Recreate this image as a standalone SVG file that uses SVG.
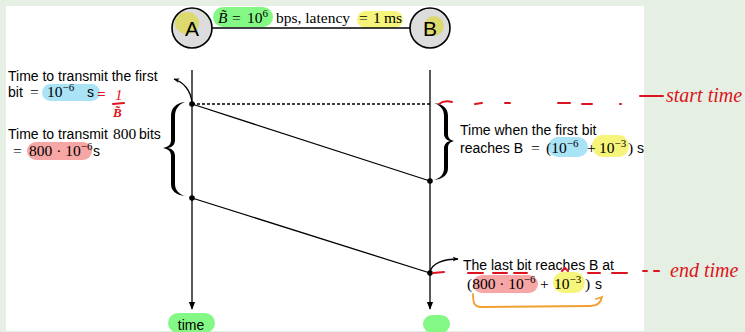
<svg xmlns="http://www.w3.org/2000/svg" width="745" height="332" viewBox="0 0 745 332">
  <defs>
    <style>
      .sans{font-family:"Liberation Sans",Arial,sans-serif;font-size:14px;fill:#000}
      .math{font-family:"Liberation Serif","Times New Roman",serif;font-size:15.5px;fill:#000}
      .sup{font-size:11px}
      .ink{stroke:#000;fill:none;stroke-width:1.3}
      .node{fill:#dcdcdc;stroke:#000;stroke-width:1.6}
      .red{stroke:#dc1420;stroke-width:2;fill:none;stroke-linecap:round}
      .hand{font-family:"Liberation Serif",serif;font-style:italic;fill:#dc1420}
      .hl-green{fill:#84f884}
      .hl-blue{fill:#aae3f6}
      .hl-pink{fill:#f7a6a6}
      .hl-yellow{fill:#f6f47a}
    </style>
    <marker id="axisHead" viewBox="0 0 10 10" refX="9" refY="5" markerWidth="8" markerHeight="9" orient="auto" markerUnits="userSpaceOnUse">
      <path d="M0,1 L10,5 L0,9 Z" fill="#000"/>
    </marker>
    <marker id="smallHead" viewBox="0 0 10 10" refX="9" refY="5" markerWidth="6" markerHeight="6" orient="auto" markerUnits="userSpaceOnUse">
      <path d="M0,1 L10,5 L0,9 L3,5 Z" fill="#000"/>
    </marker>
  </defs>

  <!-- page -->
  <rect x="0" y="0" width="745" height="332" fill="#e5efe3"/>
  <rect x="6" y="6" width="638" height="325" fill="#fff"/>

  <!-- link label -->
  <g id="link-label">
    <rect class="hl-green" x="213" y="7" width="60" height="20" rx="10"/>
    <rect class="hl-yellow" x="357" y="11" width="46" height="17" rx="8.5"/>
    <text y="22.5" class="math"><tspan x="218" font-style="italic">B̃</tspan><tspan x="232">=</tspan><tspan x="247">10</tspan><tspan class="sup" dy="-6">6</tspan><tspan x="276" dy="6">bps, latency</tspan><tspan x="359">=</tspan><tspan x="373">1</tspan><tspan x="384">ms</tspan></text>
  </g>

  <!-- node A -->
  <g id="node-a">
    <circle class="node" cx="192" cy="28" r="20"/>
    <ellipse cx="187" cy="23" rx="12" ry="11" fill="#dcd85c" opacity="0.85"/>
    <text x="192" y="36" text-anchor="middle" font-family="Liberation Sans,Arial,sans-serif" font-size="21">A</text>
  </g>

  <!-- node B -->
  <g id="node-b">
    <circle class="node" cx="430" cy="28" r="20"/>
    <ellipse cx="434" cy="26" rx="10" ry="10" fill="#dcd85c" opacity="0.85"/>
    <text x="430" y="36" text-anchor="middle" font-family="Liberation Sans,Arial,sans-serif" font-size="21">B</text>
  </g>

  <!-- connectors -->
  <g id="connectors">
    <line class="ink" x1="212" y1="28" x2="410" y2="28" stroke-width="1.6"/>
    <line class="ink" x1="192" y1="70" x2="192" y2="309" marker-end="url(#axisHead)"/>
    <line class="ink" x1="430" y1="70" x2="430" y2="309" marker-end="url(#axisHead)"/>
    <line class="ink" x1="192" y1="104" x2="430" y2="104" stroke-dasharray="3 2"/>
    <line class="ink" x1="192" y1="104" x2="430" y2="181"/>
    <line class="ink" x1="192" y1="198" x2="430" y2="273"/>
    <path class="ink" d="M192,103 C191,90 183,82 174,79" stroke-width="1" marker-end="url(#smallHead)"/>
    <path class="ink" d="M430,272 C432,263 444,259 458,259" stroke-width="1" marker-end="url(#smallHead)"/>
    <g fill="#000">
      <circle cx="192" cy="104" r="2.8"/>
      <circle cx="430" cy="181" r="2.8"/>
      <circle cx="192" cy="198" r="2.8"/>
      <circle cx="430" cy="273" r="2.8"/>
    </g>
  </g>

  <!-- braces -->
  <path id="brace-left" fill="#000" d="M185,102 C176,103 171,108 171,116 L171,140 C171,145 168,147 163,148 C168,149 171,151 171,156 L171,184 C171,191 176,195 185,196 C179,194 175,190 175,184 L175,156 C175,152 173,149 168,148 C173,147 175,144 175,140 L175,116 C175,109 179,104 185,102 Z"/>
  <path id="brace-right" fill="#000" d="M434,103 C443,104 448,108 448,116 L448,134 C448,138 450,140 454,141 C450,142 448,144 448,148 L448,168 C448,175 443,179 434,180 C440,178 444,175 444,168 L444,148 C444,145 446,142 450,141 C446,140 444,137 444,134 L444,116 C444,109 440,105 434,103 Z"/>

  <!-- left notes -->
  <g id="note-first-bit">
    <rect class="hl-blue" x="42" y="84" width="58" height="17" rx="8.5"/>
    <text x="8" y="81" class="sans">Time to transmit the first</text>
    <text y="97" class="sans"><tspan x="8">bit</tspan><tspan x="30" class="math">=</tspan><tspan x="47" class="math">10</tspan><tspan class="math sup" dy="-6">−6</tspan><tspan x="87" dy="6">s</tspan></text>
  </g>
  <g id="note-800-bits">
    <rect class="hl-pink" x="27" y="142" width="65" height="18" rx="9"/>
    <text y="139" class="sans"><tspan x="8">Time to transmit</tspan><tspan x="113" class="math">800</tspan><tspan x="139">bits</tspan></text>
    <text y="156" class="sans"><tspan x="13" class="math">=</tspan><tspan x="29" class="math">800 · 10</tspan><tspan class="math sup" dy="-6">−6</tspan><tspan x="93" dy="6">s</tspan></text>
  </g>

  <!-- right notes -->
  <g id="note-first-arrival">
    <rect class="hl-blue" x="548" y="137" width="40" height="20" rx="10"/>
    <rect class="hl-yellow" x="592" y="135" width="37" height="22" rx="11"/>
    <text x="460" y="135" class="sans">Time when the first bit</text>
    <text y="153" class="sans"><tspan x="460">reaches B</tspan><tspan x="531" class="math">=</tspan><tspan x="546" class="math">(10</tspan><tspan class="math sup" dy="-6">−6</tspan><tspan x="587" dy="6" class="math">+</tspan><tspan x="599" class="math">10</tspan><tspan class="math sup" dy="-6">−3</tspan><tspan x="628" dy="6" class="math">)</tspan><tspan x="637">s</tspan></text>
  </g>
  <g id="note-last-arrival">
    <rect class="hl-pink" x="473" y="275" width="65" height="18" rx="9"/>
    <rect class="hl-yellow" x="553" y="272" width="32" height="21" rx="10.5"/>
    <text x="463" y="270" class="sans">The last bit reaches B at</text>
    <text y="289" class="sans"><tspan x="467" class="math">(800 · 10</tspan><tspan class="math sup" dy="-6">−6</tspan><tspan x="540" dy="6" class="math">+</tspan><tspan x="554" class="math">10</tspan><tspan class="math sup" dy="-6">−3</tspan><tspan x="585" dy="6" class="math">)</tspan><tspan x="595">s</tspan></text>
    <path d="M473,294 C473,302 474,307 481,307 L590,306 C598,306 601,302 602,297 L596,299" fill="none" stroke="#f0a030" stroke-width="1.8" stroke-linecap="round"/>
  </g>

  <!-- axis labels -->
  <g id="label-time">
    <rect class="hl-green" x="168" y="313" width="47" height="20" rx="10"/>
    <text x="191" y="330" text-anchor="middle" class="sans">time</text>
  </g>
  <g id="label-time-b">
    <rect class="hl-green" x="423" y="315" width="27" height="18" rx="9"/>
  </g>

  <!-- red ink annotations -->
  <g id="ink-notes">
    <text x="97" y="99" class="hand" font-size="15" font-weight="bold">=</text>
    <text x="115" y="100" class="hand" font-size="15" font-style="normal">1</text>
    <path class="red" d="M113,104 L124,103"/>
    <text x="113" y="117" class="hand" font-size="13" font-style="normal" font-weight="bold">B̃</text>

    <path class="red" d="M439,104 C443,101 448,101 452,102"/>
    <path class="red" d="M475,104 L482,103 M505,103 L510,103 M558,103 L570,103 M582,104 L592,104 M620,104 L621,104"/>
    <path class="red" d="M640,96 L663,96"/>
    <text x="666" y="102" class="hand" font-size="20">start time</text>

    <path class="red" d="M433,273 L444,272"/>
    <path class="red" d="M468,273 L483,273 M493,273 L507,273 M514,273 L527,273 M562,271 L565,268 L568,271 M588,273 L600,273 M612,273 L627,273"/>
    <path class="red" d="M643,271 L647,271 M654,271 L659,271"/>
    <text x="670" y="277" class="hand" font-size="20">end time</text>
  </g>
</svg>
